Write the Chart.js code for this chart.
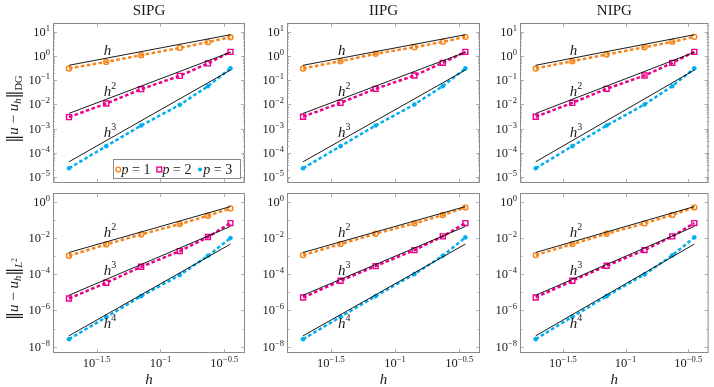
<!DOCTYPE html>
<html><head><meta charset="utf-8">
<script src="https://cdn.jsdelivr.net/npm/chart.js@4"></script>
<style>
html,body{margin:0;padding:0;background:#fff;}
#wrap{position:relative;width:714px;height:387px;overflow:hidden;background:#fff;}
canvas{position:absolute;left:0;top:0;}
</style></head><body><div id="wrap"></div>
<script>
// ---------- data ----------
const hValues = [0.0192, 0.0376, 0.0706, 0.1416, 0.2355, 0.3532];
const methods = ['SIPG', 'IIPG', 'NIPG'];
const seriesLabels = ['1', '2', '3'];
const xTickExps = [-1.5, -1, -0.5];
const yTickExpsDG = [1, 0, -1, -2, -3, -4, -5];
const yTickExpsL2 = [0, -2, -4, -6, -8];
const xLimits = [0.01439, 0.4592];
const yLimitsDG = [5.65e-6, 23.55];
const yLimitsL2 = [4.47e-9, 3.02];

const dg_SIPG_p1 = [0.31, 0.58, 1.1, 2.2, 3.8, 6.1];
const dg_SIPG_p2 = [0.0030, 0.011, 0.043, 0.153, 0.50, 1.51];
const dg_SIPG_p3 = [2.3e-5, 1.89e-4, 1.35e-3, 9.7e-3, 0.0574, 0.31];
const dg_IIPG_p1 = [0.31, 0.62, 1.25, 2.35, 3.9, 6.3];
const dg_IIPG_p2 = [0.0031, 0.0117, 0.0446, 0.158, 0.53, 1.51];
const dg_IIPG_p3 = [2.3e-5, 1.89e-4, 1.35e-3, 0.0100, 0.0574, 0.31];
const dg_NIPG_p1 = [0.31, 0.62, 1.17, 2.35, 3.9, 6.3];
const dg_NIPG_p2 = [0.0031, 0.0117, 0.0446, 0.158, 0.53, 1.51];
const dg_NIPG_p3 = [2.3e-5, 1.89e-4, 1.35e-3, 0.0100, 0.0574, 0.31];

const l2_SIPG_p1 = [1.04e-3, 4.4e-3, 0.0157, 0.0583, 0.169, 0.428];
const l2_SIPG_p2 = [4.56e-6, 3.35e-5, 2.56e-4, 1.88e-3, 0.0112, 0.0663];
const l2_SIPG_p3 = [2.59e-8, 4.25e-7, 6.14e-6, 8.87e-5, 1.04e-3, 9.8e-3];
const l2_IIPG_p1 = [1.13e-3, 4.58e-3, 0.0171, 0.0635, 0.183, 0.486];
const l2_IIPG_p2 = [5.19e-6, 4.32e-5, 2.79e-4, 2.14e-3, 0.0122, 0.0663];
const l2_IIPG_p3 = [2.59e-8, 4.43e-7, 6.14e-6, 1.01e-4, 1.04e-3, 0.0107];
const l2_NIPG_p1 = [1.13e-3, 4.58e-3, 0.0171, 0.0635, 0.186, 0.486];
const l2_NIPG_p2 = [5.19e-6, 4.32e-5, 2.91e-4, 2.14e-3, 0.0122, 0.0663];
const l2_NIPG_p3 = [2.59e-8, 4.43e-7, 6.14e-6, 9.7e-5, 1.08e-3, 0.0107];

// reference slopes: value at first h and at last h
const refDG_h1 = [0.42, 7.7];
const refDG_h2 = [0.00427, 1.45];
const refDG_h3 = [4.27e-5, 0.266];
const refL2_h2 = [1.58e-3, 0.537];
const refL2_h3 = [6.9e-6, 0.0431];
const refL2_h4 = [3.98e-8, 4.57e-3];
const refOrdersDG = ['', '2', '3'];
const refOrdersL2 = ['2', '3', '4'];
const refLabelX = 0.0385;
const refLabelYDG = [1.82, 0.0363, 7.2e-4];
const refLabelYL2 = [0.0204, 1.7e-4, 1.95e-7];

// ---------- styling / layout ----------
const SERIF = '"Liberation Serif","DejaVu Serif",serif';
const COLORS = ['#f7861c', '#ec008c', '#00aeef'];
const colLeft = [53, 287, 520], colRight = [245, 480, 712];
const rowTop = [23, 193], rowBottom = [183, 353];
const BOXC = '#8a8a8a', TICKC = '#9a9a9a', TXT = '#1a1a1a';

const wrap = document.getElementById('wrap');

function fontOf(p) { return p.f + ' ' + (p.fam || SERIF); }
function drawParts(ctx, parts, x, base, align) {
  let w = 0;
  for (const p of parts) { ctx.font = fontOf(p); p.w = ctx.measureText(p.t).width; w += p.w + (p.gap || 0); }
  let sx = align === 'center' ? x - w / 2 : align === 'right' ? x - w : x;
  ctx.textAlign = 'left'; ctx.textBaseline = 'alphabetic';
  for (const p of parts) {
    ctx.font = fontOf(p);
    ctx.fillText(p.t, sx, base + (p.dy || 0));
    sx += p.w + (p.gap || 0);
  }
  return w;
}
function expStr(e) { return (e < 0 ? '\u2212' : '') + String(Math.abs(e)); }
function powParts(e) { return [{ t: '10', f: '12.5px' }, { t: expStr(e), f: '8.5px', dy: -5 }]; }

function makePanel(row, col, series, refs, refOrders, refLabelY, yTickExps, yLimits) {
  const cv = document.createElement('canvas');
  cv.width = 714; cv.height = 387;
  wrap.appendChild(cv);
  const datasets = [];
  refs.forEach(r => {
    datasets.push({
      data: [{ x: hValues[0], y: r[0] }, { x: hValues[hValues.length - 1], y: r[1] }],
      borderColor: '#000', borderWidth: 0.9, pointRadius: 0, order: 0, tension: 0
    });
  });
  const styles = [
    { pointStyle: 'circle', pointRadius: 2.5, pointBorderWidth: 1.4, fill: 'rgba(0,0,0,0)' },
    { pointStyle: 'rect', pointRadius: 3.5, pointBorderWidth: 1.4, fill: 'rgba(0,0,0,0)' },
    { pointStyle: 'circle', pointRadius: 2.1, pointBorderWidth: 0.5, fill: null }
  ];
  series.forEach((vals, k) => {
    const s = styles[k];
    datasets.push({
      data: hValues.map((h, i) => ({ x: h, y: vals[i] })),
      borderColor: COLORS[k], borderWidth: 2.5, borderDash: [3.6, 2.4],
      pointStyle: s.pointStyle, pointRadius: s.pointRadius, pointBorderWidth: s.pointBorderWidth,
      pointBorderColor: COLORS[k], pointBackgroundColor: s.fill || COLORS[k],
      order: 1, tension: 0
    });
  });
  const L = colLeft[col], R = colRight[col], T = rowTop[row], B = rowBottom[row];
  const deco = {
    id: 'deco',
    afterDraw(chart) {
      const ctx = chart.ctx, xs = chart.scales.x, ys = chart.scales.y, a = chart.chartArea;
      ctx.save();
      // box
      ctx.strokeStyle = BOXC; ctx.lineWidth = 1;
      ctx.strokeRect(a.left + 0.5, a.top + 0.5, a.right - a.left - 1, a.bottom - a.top - 1);
      // x ticks
      ctx.strokeStyle = TICKC; ctx.lineWidth = 0.8;
      ctx.beginPath();
      xTickExps.forEach(e => {
        const px = Math.round(xs.getPixelForValue(Math.pow(10, e))) + 0.5;
        ctx.moveTo(px, a.bottom); ctx.lineTo(px, a.bottom - 4);
        ctx.moveTo(px, a.top); ctx.lineTo(px, a.top + 4);
      });
      // y ticks
      const lo = Math.floor(Math.log10(yLimits[0])), hi = Math.ceil(Math.log10(yLimits[1]));
      for (let k = lo; k <= hi; k++) {
        const isMajor = yTickExps.includes(k);
        const v = Math.pow(10, k);
        if (v >= yLimits[0] && v <= yLimits[1]) {
          const py = Math.round(ys.getPixelForValue(v)) + 0.5;
          const len = isMajor ? 4 : 2.5;
          ctx.moveTo(a.left, py); ctx.lineTo(a.left + len, py);
          ctx.moveTo(a.right, py); ctx.lineTo(a.right - len, py);
        }
        if (row === 0) {
          for (let m = 2; m <= 9; m++) {
            const mv = m * v;
            if (mv < yLimits[0] || mv > yLimits[1]) continue;
            const py = Math.round(ys.getPixelForValue(mv)) + 0.5;
            ctx.moveTo(a.left, py); ctx.lineTo(a.left + 2, py);
            ctx.moveTo(a.right, py); ctx.lineTo(a.right - 2, py);
          }
        }
      }
      ctx.stroke();
      ctx.fillStyle = TXT;
      // y tick labels
      yTickExps.forEach(e => {
        const py = ys.getPixelForValue(Math.pow(10, e));
        drawParts(ctx, powParts(e), a.left - 3, py + 4, 'right');
      });
      // x tick labels + axis label
      if (row === 1) {
        xTickExps.forEach(e => {
          const px = xs.getPixelForValue(Math.pow(10, e));
          drawParts(ctx, [{ t: '10', f: '12.5px' }, { t: expStr(e), f: '8.5px', dy: -5.5 }], px, a.bottom + 14, 'center');
        });
        drawParts(ctx, [{ t: 'h', f: 'italic 15px' }], (a.left + a.right) / 2, 384, 'center');
      } else {
        drawParts(ctx, [{ t: methods[col], f: '15px' }], (a.left + a.right) / 2, 14.5, 'center');
      }
      // reference slope labels
      refOrders.forEach((o, k) => {
        const px = xs.getPixelForValue(refLabelX), py = ys.getPixelForValue(refLabelY[k]);
        ctx.font = 'italic 15px ' + SERIF;
        const hw = ctx.measureText('h').width;
        const parts = [{ t: 'h', f: 'italic 15px' }];
        if (o) parts.push({ t: o, f: '10px', dy: -7 });
        drawParts(ctx, parts, px - hw / 2, py + 5, 'left');
      });
      // y axis label (first column)
      if (col === 0) {
        const bar = { t: '\u2016', f: '16px', fam: '"DejaVu Serif",serif', dy: 1 };
        const parts = [Object.assign({}, bar), { t: 'u', f: 'italic 15px' }, { t: ' \u2212 ', f: '15px' },
          { t: 'u', f: 'italic 15px' }, { t: 'h', f: 'italic 10.5px', dy: 3 }, Object.assign({}, bar)];
        if (row === 0) parts.push({ t: 'DG', f: '10.5px', dy: 4 });
        else { parts.push({ t: 'L', f: 'italic 10.5px', dy: 4 }); parts.push({ t: '2', f: '7.5px', dy: -1.5 }); }
        let w = 0;
        for (const p of parts) { ctx.font = fontOf(p); w += ctx.measureText(p.t).width; }
        const cy = row === 0 ? 109 : 289;
        ctx.translate(13, cy + w / 2);
        ctx.rotate(-Math.PI / 2);
        drawParts(ctx, parts, 0, 5, 'left');
        ctx.setTransform(1, 0, 0, 1, 0, 0);
      }
      // legend
      if (row === 0 && col === 0) {
        ctx.fillStyle = '#fff'; ctx.fillRect(113, 159, 127, 19);
        ctx.strokeStyle = BOXC; ctx.lineWidth = 1; ctx.strokeRect(113.5, 159.5, 127, 19);
        const mx = [118.3, 159.3, 200], cy = 169.5;
        seriesLabels.forEach((lab, k) => {
          ctx.strokeStyle = COLORS[k]; ctx.fillStyle = COLORS[k]; ctx.lineWidth = 1.4;
          if (k === 0) { ctx.beginPath(); ctx.arc(mx[k], cy, 2.4, 0, Math.PI * 2); ctx.stroke(); }
          else if (k === 1) { ctx.strokeRect(mx[k] - 2.4, cy - 2.4, 4.8, 4.8); }
          else { ctx.beginPath(); ctx.arc(mx[k], cy, 2.1, 0, Math.PI * 2); ctx.fill(); }
          ctx.fillStyle = TXT;
          drawParts(ctx, [{ t: 'p', f: 'italic 14px', gap: 3.5 }, { t: '=', f: '14px', gap: 3.5 }, { t: lab, f: '14px' }],
            mx[k] + 3.3, 174, 'left');
        });
      }
      ctx.restore();
    }
  };
  new Chart(cv, {
    type: 'line',
    data: { datasets },
    options: {
      responsive: false, animation: false, devicePixelRatio: 1, events: [],
      layout: { padding: { left: L, top: T, right: 714 - R, bottom: 387 - B } },
      plugins: { legend: { display: false }, tooltip: { enabled: false } },
      scales: {
        x: { type: 'logarithmic', min: xLimits[0], max: xLimits[1], display: false },
        y: { type: 'logarithmic', min: yLimits[0], max: yLimits[1], display: false }
      }
    },
    plugins: [deco]
  });
}

makePanel(0, 0, [dg_SIPG_p1, dg_SIPG_p2, dg_SIPG_p3], [refDG_h1, refDG_h2, refDG_h3], refOrdersDG, refLabelYDG, yTickExpsDG, yLimitsDG);
makePanel(0, 1, [dg_IIPG_p1, dg_IIPG_p2, dg_IIPG_p3], [refDG_h1, refDG_h2, refDG_h3], refOrdersDG, refLabelYDG, yTickExpsDG, yLimitsDG);
makePanel(0, 2, [dg_NIPG_p1, dg_NIPG_p2, dg_NIPG_p3], [refDG_h1, refDG_h2, refDG_h3], refOrdersDG, refLabelYDG, yTickExpsDG, yLimitsDG);
makePanel(1, 0, [l2_SIPG_p1, l2_SIPG_p2, l2_SIPG_p3], [refL2_h2, refL2_h3, refL2_h4], refOrdersL2, refLabelYL2, yTickExpsL2, yLimitsL2);
makePanel(1, 1, [l2_IIPG_p1, l2_IIPG_p2, l2_IIPG_p3], [refL2_h2, refL2_h3, refL2_h4], refOrdersL2, refLabelYL2, yTickExpsL2, yLimitsL2);
makePanel(1, 2, [l2_NIPG_p1, l2_NIPG_p2, l2_NIPG_p3], [refL2_h2, refL2_h3, refL2_h4], refOrdersL2, refLabelYL2, yTickExpsL2, yLimitsL2);
</script>
</body></html>
